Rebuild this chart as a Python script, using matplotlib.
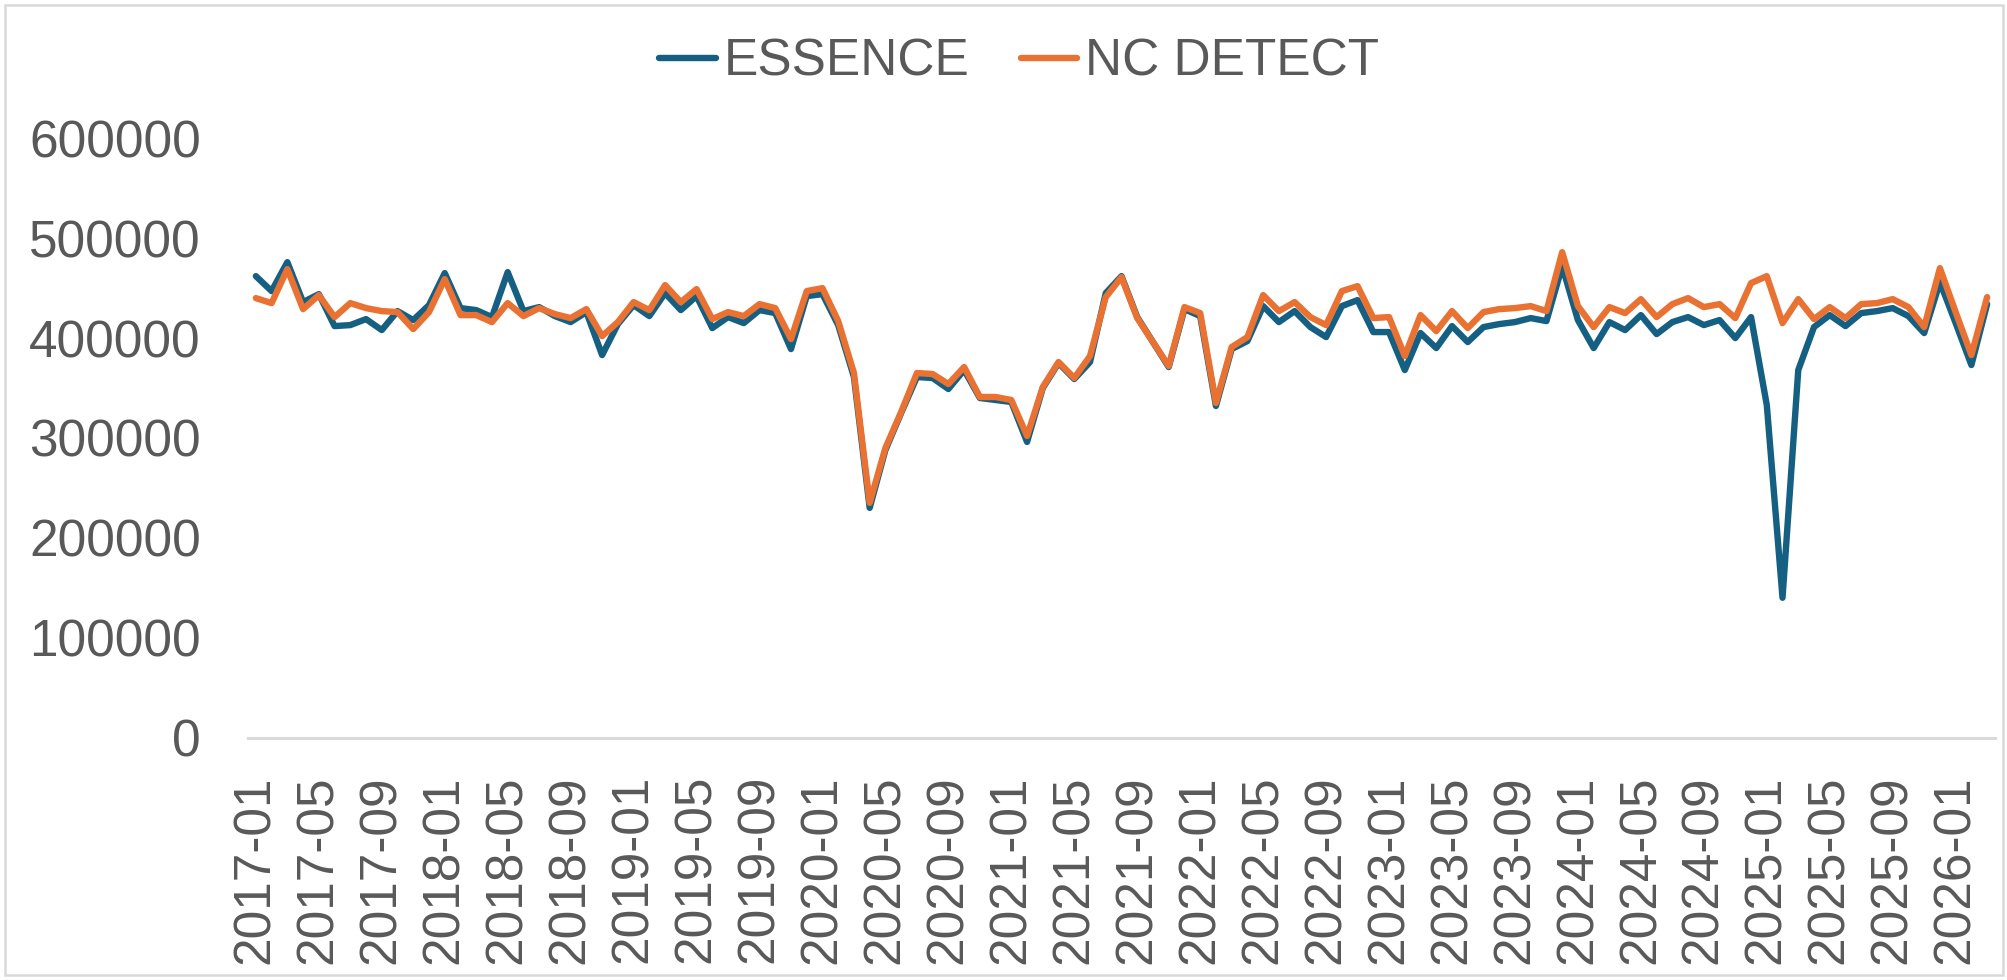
import numpy as np
import pandas as pd
import matplotlib
matplotlib.use('Agg')
import matplotlib.pyplot as plt
from matplotlib.patches import Rectangle

plt.rcParams['font.family'] = ['Liberation Sans', 'DejaVu Sans']

# monthly categories 2017-01 .. 2026-03
months = [str(p) for p in pd.period_range('2017-01', '2026-03', freq='M')]

essence = [
    462000, 447000, 476000, 436000, 444000, 412000, 413000, 419000, 408000, 427000,
    418000, 433000, 465000, 430000, 428000, 421000, 466000, 427000, 431000, 422000,
    416000, 426000, 383000, 414000, 433000, 422000, 445000, 428000, 442000, 410000,
    421000, 415000, 428000, 425000, 389000, 442000, 444000, 413000, 361000, 230000,
    288000, 325000, 361000, 360000, 349000, 368000, 340000, 338000, 336000, 296000,
    350000, 375000, 359000, 376000, 445000, 462000, 421000, 396000, 371000, 429000,
    422000, 332000, 389000, 397000, 432000, 416000, 427000, 411000, 401000, 432000,
    438000, 406000, 406000, 368000, 405000, 390000, 412000, 396000, 411000, 414000,
    416000, 420000, 417000, 472000, 418000, 390000, 416000, 408000, 423000, 404000,
    416000, 421000, 413000, 418000, 400000, 421000, 333000, 140000, 368000, 411000,
    423000, 412000, 425000, 427000, 430000, 422000, 405000, 456000, 415000, 373000,
    434000,
]

nc_detect = [
    440000, 435000, 469000, 429000, 443000, 421000, 435000, 430000, 427000, 426000,
    409000, 426000, 459000, 423000, 423000, 416000, 435000, 422000, 430000, 424000,
    420000, 429000, 402000, 416000, 436000, 428000, 453000, 436000, 449000, 419000,
    426000, 422000, 434000, 430000, 399000, 447000, 450000, 417000, 365000, 235000,
    290000, 326000, 365000, 364000, 354000, 371000, 341000, 341000, 338000, 302000,
    351000, 376000, 360000, 382000, 441000, 461000, 420000, 396000, 372000, 431000,
    425000, 335000, 391000, 401000, 443000, 427000, 436000, 421000, 413000, 447000,
    452000, 420000, 421000, 382000, 423000, 407000, 427000, 410000, 426000, 429000,
    430000, 432000, 427000, 486000, 432000, 411000, 431000, 425000, 439000, 421000,
    434000, 440000, 431000, 434000, 420000, 455000, 462000, 415000, 439000, 419000,
    431000, 420000, 434000, 435000, 439000, 431000, 411000, 470000, 426000, 383000,
    441000,
]

text_color = '#595959'
W, H = 2008, 980

fig = plt.figure(figsize=(W / 100, H / 100), dpi=100)
ax = fig.add_axes([248 / W, 1 - 737.6 / H, (1995 - 248) / W, (737.6 - 138.3) / H])

x = np.arange(len(months))
ax.plot(x, essence, color='#156082', lw=4.6, label='ESSENCE', solid_joinstyle='round', solid_capstyle='round')
ax.plot(x, nc_detect, color='#E97132', lw=4.6, label='NC DETECT', solid_joinstyle='round', solid_capstyle='round')

ax.set_xlim(-0.5, len(months) - 0.5)
ax.set_ylim(0, 600000)
ax.set_yticks(np.arange(0, 600001, 100000))
ax.set_yticklabels([str(v) for v in range(0, 600001, 100000)])
ax.set_xticks(x[::4])
ax.set_xticklabels(months[::4], rotation=90, va='top', ha='center')

ax.tick_params(axis='both', length=0, labelsize=37, colors=text_color)
ax.tick_params(axis='x', pad=27)
ax.tick_params(axis='y', pad=34)

for side in ['top', 'right', 'left']:
    ax.spines[side].set_visible(False)
ax.spines['bottom'].set_color('#d9d9d9')
ax.spines['bottom'].set_linewidth(2.2)

fig.legend(loc='center', bbox_to_anchor=(1019 / W, 1 - 62 / H), ncol=2, frameon=False,
           fontsize=37, labelcolor=text_color, handlelength=1.1, handletextpad=0.15,
           columnspacing=1.0)

# light chart-area border
fig.patches.append(Rectangle((5 / W, 5 / H), (W - 10) / W, (H - 10) / H, transform=fig.transFigure,
                             fill=False, edgecolor='#d9d9d9', lw=1.8))

plt.savefig('out.png', dpi=100)
